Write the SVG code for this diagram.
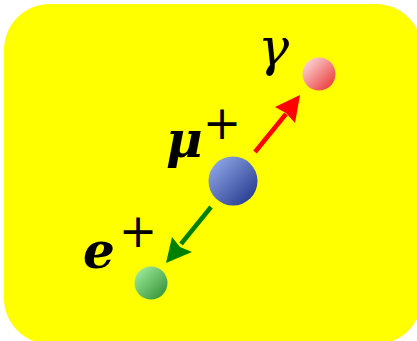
<svg xmlns="http://www.w3.org/2000/svg" width="417" height="341" viewBox="0 0 417 341">
<style>
.lbl{font-family:"DejaVu Serif",serif;fill:#000}
.bi{font-weight:bold;font-style:italic;font-size:50px}
.gam{font-style:italic;font-size:52px}
.pl{font-size:46px;text-anchor:middle}
</style>
<defs>
<linearGradient id="gb" x1="0" y1="0" x2="1" y2="1"><stop offset="0" stop-color="#9bb3f0"/><stop offset="1" stop-color="#1a2f85"/></linearGradient>
<linearGradient id="gr" x1="0" y1="0" x2="1" y2="1"><stop offset="0" stop-color="#ffe8e8"/><stop offset="1" stop-color="#e82a2a"/></linearGradient>
<linearGradient id="gg" x1="0" y1="0" x2="1" y2="1"><stop offset="0" stop-color="#a8f5a8"/><stop offset="1" stop-color="#2a8a2a"/></linearGradient>
</defs>
<rect x="4" y="4" width="418" height="340" rx="46" ry="46" fill="#ffff00"/>
<g id="connectors">
<line x1="255" y1="152" x2="286" y2="114" stroke="#ff0000" stroke-width="4.5"/>
<path d="M300,95 L275,107 L286,113 L295,123 Z" fill="#ff0000"/>
<line x1="211" y1="207" x2="181" y2="244" stroke="#008000" stroke-width="4.5"/>
<path d="M166,263 L172,237 L180,247 L192,252 Z" fill="#008000"/>
</g>
<g id="muon">
<circle cx="233" cy="181" r="24.5" fill="url(#gb)"/>
<text class="lbl bi" x="166" y="157">μ</text>
<text class="lbl pl" x="222" y="139">+</text>
</g>
<g id="photon">
<circle cx="319" cy="74" r="16.5" fill="url(#gr)"/>
<text class="lbl gam" x="258" y="65">γ</text>
</g>
<g id="positron">
<circle cx="151" cy="283" r="16.5" fill="url(#gg)"/>
<text class="lbl bi" x="83" y="268">e</text>
<text class="lbl pl" x="138" y="247">+</text>
</g>
</svg>
